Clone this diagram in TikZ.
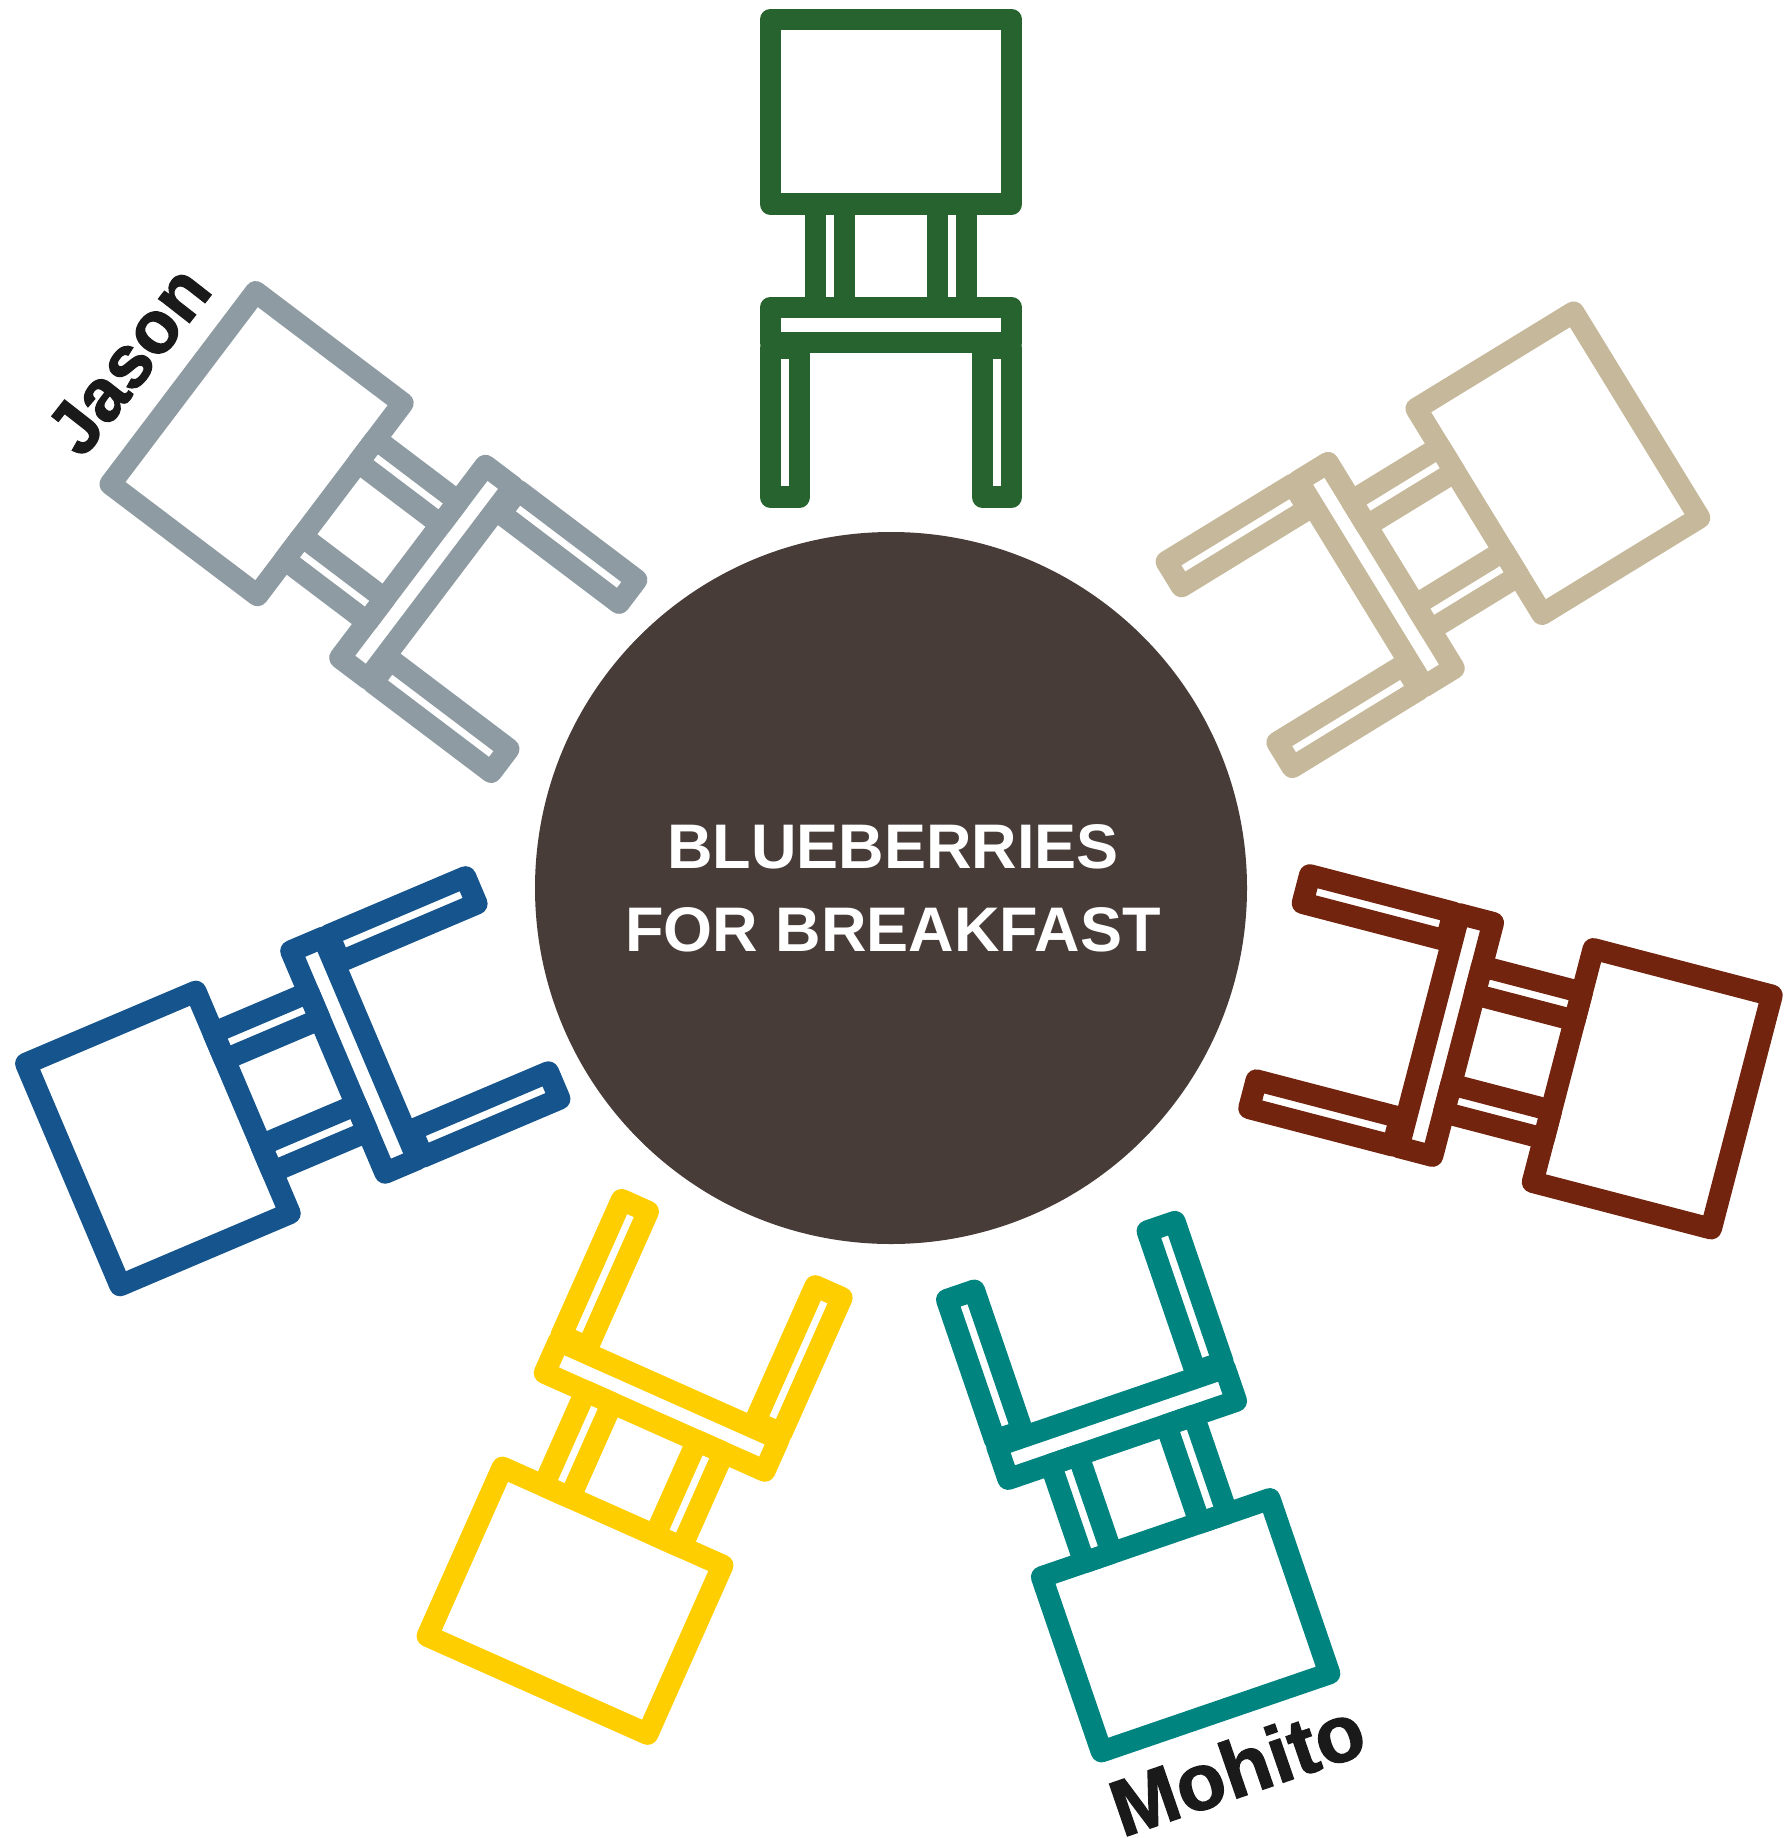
\documentclass[tikz,border=0pt]{standalone}
\usepackage{fontspec}
\setmainfont{Liberation Sans}
\newfontfamily\titlefont[Ligatures=NoCommon]{Liberation Sans}
\newfontfamily\namefont[BoldFeatures={FakeBold=1.6}]{Liberation Sans}
\definecolor{chairgreen}{HTML}{26632F}
\definecolor{chairgray}{HTML}{8E9BA3}
\definecolor{chairtan}{HTML}{C6B89A}
\definecolor{chairbrown}{HTML}{72240F}
\definecolor{chairteal}{HTML}{00847F}
\definecolor{chairyellow}{HTML}{FFCE00}
\definecolor{chairblue}{HTML}{15548C}
\definecolor{tabledark}{HTML}{483C39}
\definecolor{namedark}{HTML}{1A1A1A}
\tikzset{
	chairline/.style={line width=21.7pt, line join=round},
	titletext/.style={text=white, inner sep=0pt, font=\titlefont\bfseries\fontsize{63}{63}\selectfont},
	nametext/.style={text=namedark, inner sep=0pt, font=\namefont\bfseries\fontsize{#1}{#1}\selectfont},
}
\begin{document}
\begin{tikzpicture}[x=1pt,y=-1pt]
	\useasboundingbox (0,0) rectangle (1787,1838);

	\fill[tabledark] (891,888) circle (356);
	\node[titletext] (titleone) at (893,847) {BLUEBERRIES};
	\node[titletext] (titletwo) at (893,930) {FOR BREAKFAST};

	\foreach \clr/\px/\py/\ang in {chairgreen/891/19.5/0, chairgray/183/388/52.9, chairtan/1636.5/415/-58.5, chairbrown/1741.5/1112/-104.6, chairteal/1215.5/1712.5/-161.1, chairyellow/537.5/1685/156, chairblue/73/1174.5/113}{
		\begin{scope}[shift={(\px,\py)},rotate=\ang]
			\draw[chairline,\clr] (-120.5,0) rectangle (120.5,184.5);
			\draw[chairline,\clr] (-75.5,184.5) rectangle (-46.5,288);
			\draw[chairline,\clr] (46.5,184.5) rectangle (75.5,288);
			\draw[chairline,\clr] (-120.5,288) rectangle (120.5,323);
			\draw[chairline,\clr] (-120.5,329) rectangle (-91.5,477.5);
			\draw[chairline,\clr] (91.5,329) rectangle (120.5,477.5);
		\end{scope}
	}

	\node[nametext=74,rotate=52] (jason) at (128.5,360) {Jason};
	\node[nametext=80,rotate=19] (mohito) at (1237,1768) {Mohito};
\end{tikzpicture}
\end{document}
